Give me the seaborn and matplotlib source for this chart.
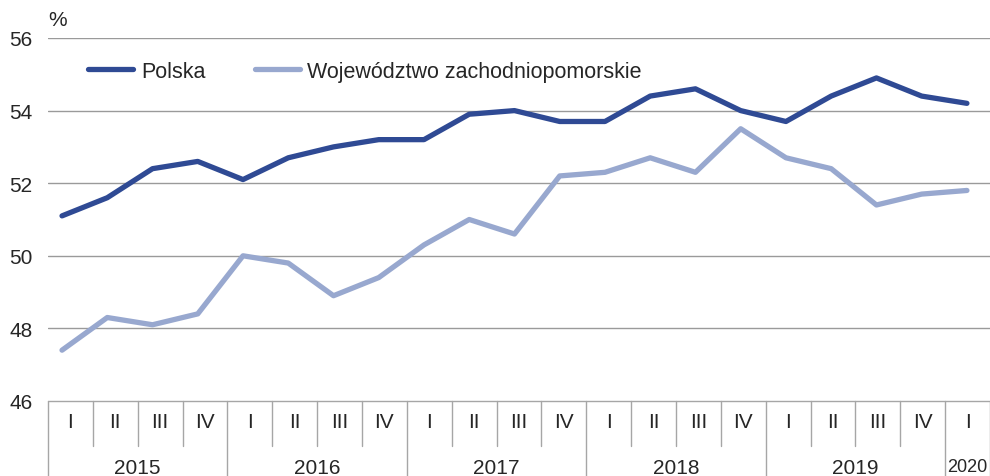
import pandas as pd
import matplotlib
matplotlib.use('Agg')
import matplotlib.pyplot as plt
import seaborn as sns

# dane: udział (%) kwartalnie 2015 I - 2020 I
lata = ['2015', '2016', '2017', '2018', '2019', '2020']
kwartaly = ['I', 'II', 'III', 'IV'] * 5 + ['I']
polska = [51.1, 51.6, 52.4, 52.6, 52.1, 52.7, 53.0, 53.2, 53.2, 53.9, 54.0,
          53.7, 53.7, 54.4, 54.6, 54.0, 53.7, 54.4, 54.9, 54.4, 54.2]
zachodniopomorskie = [47.4, 48.3, 48.1, 48.4, 50.0, 49.8, 48.9, 49.4, 50.3, 51.0, 50.6,
                      52.2, 52.3, 52.7, 52.3, 53.5, 52.7, 52.4, 51.4, 51.7, 51.8]
y_ticks = [46, 48, 50, 52, 54, 56]

n = len(kwartaly)
df = pd.DataFrame({
    'x': list(range(n)) * 2,
    'wartosc': polska + zachodniopomorskie,
    'seria': ['Polska'] * n + ['Województwo zachodniopomorskie'] * n,
})

sns.set_style('white')
plt.rcParams['font.family'] = ['Liberation Sans', 'DejaVu Sans']

palette = {'Polska': '#2f4a94', 'Województwo zachodniopomorskie': '#98a8cf'}

fig = plt.figure(figsize=(9.9, 4.77), dpi=100)
ax = fig.add_axes([48 / 990, 1 - 402 / 477, 942 / 990, 363 / 477])

for yv in y_ticks[1:]:
    ax.axhline(yv, color='#9a9a9a', lw=1, zorder=0)

sns.lineplot(data=df, x='x', y='wartosc', hue='seria', palette=palette,
             lw=3.8, ax=ax, legend=True, solid_capstyle='round')

ax.set_xlim(-0.31, 20.51)
ax.set_ylim(46, 56)
ax.set_yticks(y_ticks)
ax.set_yticklabels([str(v) for v in y_ticks], fontsize=15)
ax.tick_params(axis='y', length=0, pad=11)
ax.set_xticks([])
ax.set_xlabel('')
ax.set_ylabel('')
for s in ax.spines.values():
    s.set_visible(False)

ax.text(0.0, 1.025, '%', transform=ax.transAxes, fontsize=15, ha='left', va='bottom')

h, l = ax.get_legend_handles_labels()
ax.legend(h, l, loc='upper left', bbox_to_anchor=(0.022, 0.99), ncol=2, frameon=False,
          fontsize=15.5, handlelength=2.1, columnspacing=2.3, handletextpad=0.35)

# tabelka z kwartałami i latami pod wykresem
box_c = '#a6a6a6'
kw_dol = -45 / 363
rok_dol = -75 / 363
ax.plot([0, 1], [0, 0], transform=ax.transAxes, color=box_c, lw=1, clip_on=False)
for k in range(n + 1):
    xf = k / n
    nowy_rok = (k % 4 == 0) or k == n
    ax.plot([xf, xf], [0, rok_dol if nowy_rok else kw_dol], transform=ax.transAxes,
            color=box_c, lw=1, clip_on=False)
for k, q in enumerate(kwartaly):
    ax.text((k + 0.5) / n, -20 / 363, q, transform=ax.transAxes, ha='center', va='center',
            fontsize=15)
for i, rok in enumerate(lata):
    start = i * 4
    stop = min(start + 4, n)
    ax.text((start + stop) / 2 / n, -66 / 363, rok, transform=ax.transAxes, ha='center',
            va='center', fontsize=15 if rok != '2020' else 13)

fig.savefig('out.png', dpi=100)
